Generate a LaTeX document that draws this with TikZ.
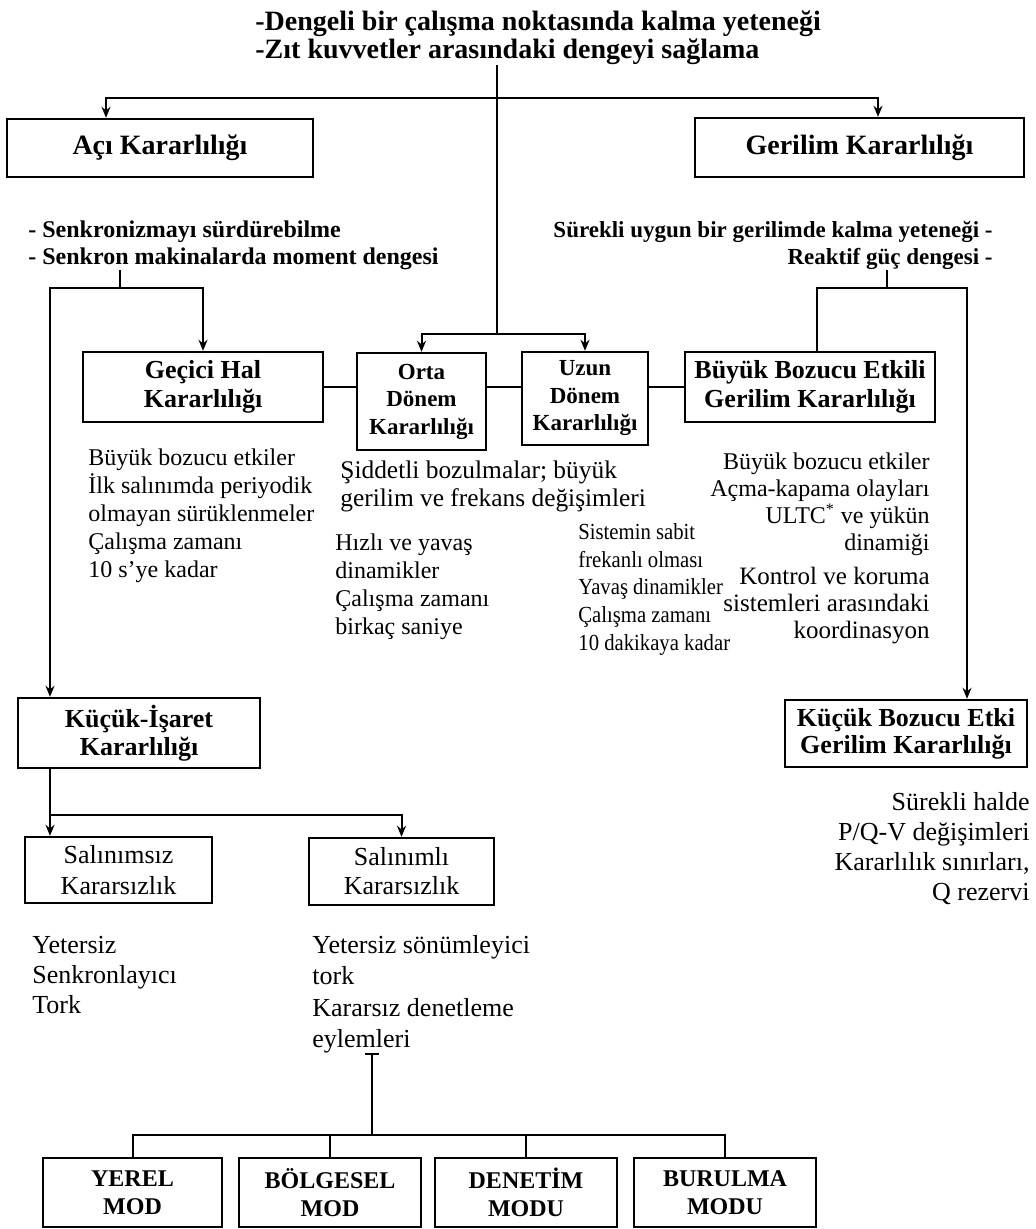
\documentclass[tikz,border=0pt]{standalone}
\usepackage{fontspec}
\setmainfont{Liberation Serif}
\newfontfamily\darfont[FakeStretch=0.9]{Liberation Serif}
\usepackage{tikz}
\usetikzlibrary{arrows.meta}

\newcommand{\boyut}[2]{\fontsize{#1}{#2}\selectfont}
\newcommand{\ilkst}{\rule{0pt}{0.9em}}

\begin{document}
\begin{tikzpicture}[x=0.5pt,y=-0.5pt,>={Stealth[length=5.5pt,width=4.5pt]},
  kutu/.style={draw,line width=1.2pt,inner sep=1pt,align=center},
  yazi/.style={inner sep=0pt},
  bag/.style={line width=1pt}]
\useasboundingbox (0,0) rectangle (1035,1229);

% kutular
\path node (aci) at (160,148) [kutu,minimum width=153pt,minimum height=29pt,font=\bfseries\boyut{14}{16}] {Açı Kararlılığı}
      node (ger) at (859.5,147.5) [kutu,minimum width=164.5pt,minimum height=29.5pt,font=\bfseries\boyut{14}{16}] {Gerilim Kararlılığı}
      node (gec) at (203,387) [kutu,minimum width=120pt,minimum height=35pt,font=\bfseries\boyut{13}{14.5}] {Geçici Hal\\Kararlılığı}
      node (orta) at (421.5,401.5) [kutu,minimum width=64.5pt,minimum height=48.5pt,font=\bfseries\boyut{11.5}{13.75}] {Orta\\Dönem\\Kararlılığı}
      node (uzun) at (585,398.5) [kutu,minimum width=63pt,minimum height=46.5pt,font=\bfseries\boyut{11.5}{13.75}] {Uzun\\Dönem\\Kararlılığı}
      node (buyuk) at (810,387) [kutu,minimum width=125pt,minimum height=35pt,font=\bfseries\boyut{13}{14.5}] {Büyük Bozucu Etkili\\Gerilim Kararlılığı}
      node (kis) at (139,733) [kutu,minimum width=121pt,minimum height=35pt,font=\bfseries\boyut{13}{14}] {Küçük-İşaret\\Kararlılığı}
      node (kbe) at (906,733.5) [kutu,minimum width=121pt,minimum height=33.5pt,font=\bfseries\boyut{13}{13.5}] {Küçük Bozucu Etki\\Gerilim Kararlılığı}
      node (sal1) at (118.5,870) [kutu,minimum width=93.5pt,minimum height=33pt,font=\boyut{13}{15.5}] {Salınımsız\\Kararsızlık}
      node (sal2) at (401.5,871.5) [kutu,minimum width=92.5pt,minimum height=33.5pt,font=\boyut{13}{14.5}] {Salınımlı\\Kararsızlık}
      node (yerel) at (132.5,1192.5) [kutu,minimum width=89.5pt,minimum height=34.5pt,font=\bfseries\boyut{12}{14}] {YEREL\\MOD}
      node (bolg) at (330,1192.5) [kutu,minimum width=91pt,minimum height=34.5pt,font=\bfseries\boyut{12}{14}] {BÖLGESEL\\MOD}
      node (dene) at (526,1192.5) [kutu,minimum width=91pt,minimum height=34.5pt,font=\bfseries\boyut{12}{14}] {DENETİM\\MODU}
      node (burul) at (725,1192.5) [kutu,minimum width=91pt,minimum height=34.5pt,font=\bfseries\boyut{12}{14}] {BURULMA\\MODU};

% aciklamalar
\path node (baslik) at (255,5) [yazi,anchor=north west,align=left,font=\bfseries\boyut{14}{14}] {\ilkst-Dengeli bir çalışma noktasında kalma yeteneği\\-Zıt kuvvetler arasındaki dengeyi sağlama}
      node (aciMetin) at (28,215.6) [yazi,anchor=north west,align=left,font=\bfseries\boyut{12}{13.5}] {\ilkst- Senkronizmayı sürdürebilme\\- Senkron makinalarda moment dengesi}
      node (gerMetin) at (993,216.2) [yazi,anchor=north east,align=right,font=\bfseries\boyut{11.5}{13.5}] {\ilkst Sürekli uygun bir gerilimde kalma yeteneği -\\Reaktif güç dengesi -}
      node (gecMetin) at (88,443.6) [yazi,anchor=north west,align=left,font=\boyut{12}{14}] {\ilkst Büyük bozucu etkiler\\İlk salınımda periyodik\\olmayan sürüklenmeler\\Çalışma zamanı\\10 s'ye kadar}
      node (ortakMetin) at (340,454.8) [yazi,anchor=north west,align=left,font=\boyut{12.7}{14}] {\ilkst Şiddetli bozulmalar; büyük\\gerilim ve frekans değişimleri}
      node (ortaMetin) at (335,528.6) [yazi,anchor=north west,align=left,font=\boyut{12}{14}] {\ilkst Hızlı ve yavaş\\dinamikler\\Çalışma zamanı\\birkaç saniye}
      node (uzunMetin) at (578,518.2) [yazi,anchor=north west,align=left,font=\darfont\boyut{11.5}{13.9}] {\ilkst Sistemin sabit\\frekanlı olması\\Yavaş dinamikler\\Çalışma zamanı\\10 dakikaya kadar}
      node (buyukMetin) at (930,447.6) [yazi,anchor=north east,align=right,font=\boyut{12}{13.5}] {\ilkst Büyük bozucu etkiler\\Açma-kapama olayları\\ULTC\textsuperscript{*} ve yükün\\dinamiği}
      node (buyukMetin2) at (930,562) [yazi,anchor=north east,align=right,font=\boyut{12.5}{13.5}] {\ilkst Kontrol ve koruma\\sistemleri arasındaki\\koordinasyon}
      node (kbeMetin) at (1030,786.4) [yazi,anchor=north east,align=right,font=\boyut{13}{15}] {\ilkst Sürekli halde\\P/Q-V değişimleri\\Kararlılık sınırları,\\Q rezervi}
      node (sal1Metin) at (32,929.4) [yazi,anchor=north west,align=left,font=\boyut{13}{15}] {\ilkst Yetersiz\\Senkronlayıcı\\Tork}
      node (sal2Metin) at (312,929.4) [yazi,anchor=north west,align=left,font=\boyut{13}{15.7}] {\ilkst Yetersiz sönümleyici\\tork\\Kararsız denetleme\\eylemleri};

\coordinate (merkez) at (497,334);
\coordinate (ustsol) at (106,98);
\coordinate (ustsag) at (878,98);
\coordinate (acidal) at (120,288);
\coordinate (solkol) at (50,288);
\coordinate (gerdal) at (887,288);
\coordinate (sagkol1) at (817,288);
\coordinate (sagkol2) at (967,288);
\coordinate (kisdal) at (50,815);
\coordinate (modbar) at (372,1135);

% baglantilar
\draw [bag] (baslik.south -| merkez) -- (merkez);
\draw [<->,bag] (ustsol |- aci.north) -- (ustsol) -- (ustsag) -- (ustsag |- ger.north);
\draw [<->,bag] (orta.north) |- (merkez) -| (uzun.north);
\draw [bag] (aciMetin.south -| acidal) -- (acidal);
\draw [<->,bag] (solkol |- kis.north) -- (solkol) -| (gec.north);
\draw [bag] (gerMetin.south -| gerdal) -- (gerdal);
\draw [->,bag] (sagkol1 |- buyuk.north) -- (sagkol1) -- (sagkol2) -- (sagkol2 |- kbe.north);
\draw [bag] (gec.east) -- (gec.east -| orta.west);
\draw [bag] (gec.east -| orta.east) -- (gec.east -| uzun.west);
\draw [bag] (gec.east -| uzun.east) -- (buyuk.west);
\draw [bag] (kis.south -| kisdal) -- (kisdal);
\draw [<->,bag] (sal1.north -| kisdal) -- (kisdal) -| (sal2.north);
\draw [|-,bag] (sal2Metin.south -| modbar) -- (modbar);
\draw [bag] (yerel.north) |- (modbar) -| (burul.north);
\draw [bag] (bolg.north) -- (bolg.north |- modbar);
\draw [bag] (dene.north) -- (dene.north |- modbar);
\end{tikzpicture}
\end{document}
